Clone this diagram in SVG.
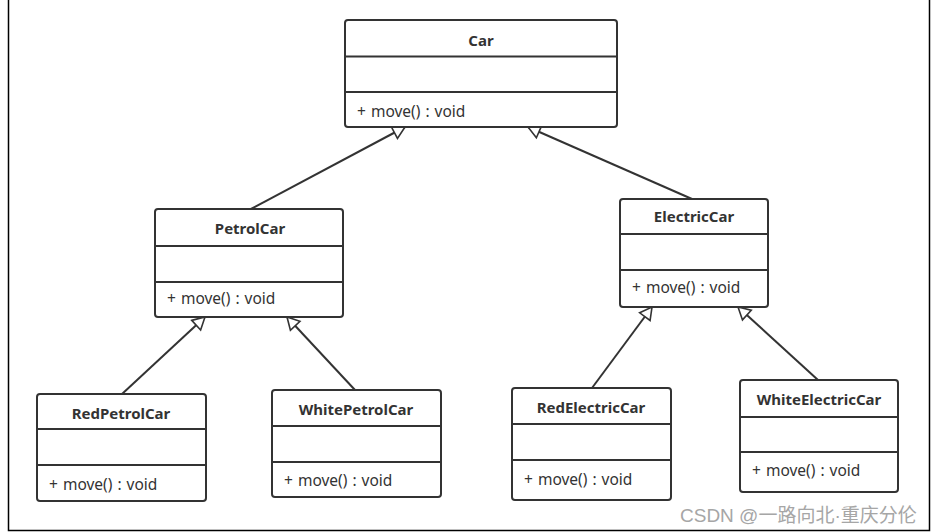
<svg xmlns="http://www.w3.org/2000/svg" width="931" height="532" viewBox="0 0 931 532">
<style>
.box{fill:#fff;stroke:#333;stroke-width:2}
.div{stroke:#333;stroke-width:2}
.title{font-family:"Noto Sans","Open Sans","Liberation Sans",sans-serif;font-size:15px;font-weight:bold;fill:#333;text-anchor:middle}
.op{font-family:"Noto Sans","Open Sans","Liberation Sans",sans-serif;font-size:15.5px;fill:#333;word-spacing:1px}
.conn{stroke:#333;stroke-width:2;fill:none;marker-end:url(#gen)}
.wm{font-family:"Liberation Sans","Noto Sans CJK SC",sans-serif;font-size:19px;fill:#a6a6a6}
</style>
<defs>
<marker id="gen" markerUnits="userSpaceOnUse" markerWidth="18" markerHeight="18" viewBox="-2 -9 18 18" refX="13" refY="0" orient="auto">
<path d="M1,-6.5 L13,0 L1,6.5 Z" fill="#fff" stroke="#333" stroke-width="1.6" stroke-linejoin="miter"/>
</marker>
</defs>
<rect width="931" height="532" fill="#fff"/>
<path d="M8.5,0 V530.5 H929.5 V0" fill="none" stroke="#000" stroke-width="1.5"/>
<g id="connectors">
<line class="conn" x1="251" y1="209" x2="405" y2="127"/>
<line class="conn" x1="692" y1="199" x2="528" y2="127"/>
<line class="conn" x1="122" y1="394" x2="205" y2="317"/>
<line class="conn" x1="355" y1="390" x2="287" y2="317"/>
<line class="conn" x1="592" y1="388" x2="652" y2="307"/>
<line class="conn" x1="818" y1="380" x2="738" y2="307"/>
</g>
<g id="Car">
<rect class="box" x="345" y="20" width="272" height="107" rx="3"/>
<line class="div" x1="345" y1="56.5" x2="617" y2="56.5"/>
<line class="div" x1="345" y1="92" x2="617" y2="92"/>
<text class="title" x="481" y="46">Car</text>
<text class="op" x="357" y="117">+ move() : void</text>
</g>
<g id="PetrolCar">
<rect class="box" x="155" y="209" width="188" height="108" rx="3"/>
<line class="div" x1="155" y1="246" x2="343" y2="246"/>
<line class="div" x1="155" y1="282" x2="343" y2="282"/>
<text class="title" x="250" y="234">PetrolCar</text>
<text class="op" x="167" y="304">+ move() : void</text>
</g>
<g id="ElectricCar">
<rect class="box" x="620" y="199" width="148" height="108" rx="3"/>
<line class="div" x1="620" y1="234" x2="768" y2="234"/>
<line class="div" x1="620" y1="270" x2="768" y2="270"/>
<text class="title" x="694" y="222">ElectricCar</text>
<text class="op" x="632" y="293">+ move() : void</text>
</g>
<g id="RedPetrolCar">
<rect class="box" x="37" y="394" width="169" height="107" rx="3"/>
<line class="div" x1="37" y1="429" x2="206" y2="429"/>
<line class="div" x1="37" y1="465" x2="206" y2="465"/>
<text class="title" x="121" y="419">RedPetrolCar</text>
<text class="op" x="49" y="490">+ move() : void</text>
</g>
<g id="WhitePetrolCar">
<rect class="box" x="272" y="390" width="169" height="107" rx="3"/>
<line class="div" x1="272" y1="426" x2="441" y2="426"/>
<line class="div" x1="272" y1="462" x2="441" y2="462"/>
<text class="title" x="356" y="415">WhitePetrolCar</text>
<text class="op" x="284" y="486">+ move() : void</text>
</g>
<g id="RedElectricCar">
<rect class="box" x="512" y="388" width="159" height="112" rx="3"/>
<line class="div" x1="512" y1="424" x2="671" y2="424"/>
<line class="div" x1="512" y1="460" x2="671" y2="460"/>
<text class="title" x="591" y="413">RedElectricCar</text>
<text class="op" x="524" y="485">+ move() : void</text>
</g>
<g id="WhiteElectricCar">
<rect class="box" x="740" y="380" width="158" height="112" rx="3"/>
<line class="div" x1="740" y1="417" x2="898" y2="417"/>
<line class="div" x1="740" y1="452" x2="898" y2="452"/>
<text class="title" x="819" y="405">WhiteElectricCar</text>
<text class="op" x="752" y="476">+ move() : void</text>
</g>
<text class="wm" x="680" y="522">CSDN @一路向北·重庆分伦</text>
</svg>
